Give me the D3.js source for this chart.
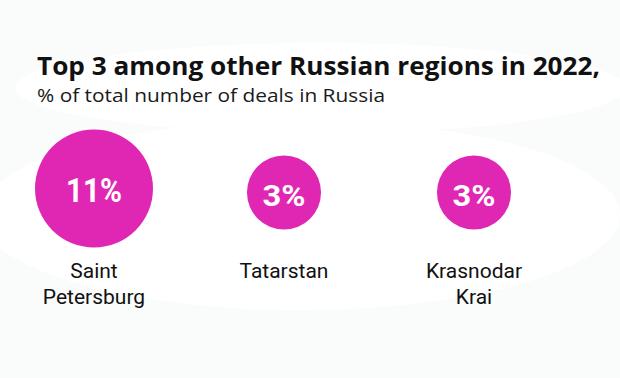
<!DOCTYPE html>
<html><head><meta charset="utf-8">
<script src="https://cdn.jsdelivr.net/npm/d3@7"></script>
<style>html,body{margin:0;padding:0;background:#fbfcfc;}svg{display:block;}</style>
</head><body>
<script>
const regions = ["Saint Petersburg", "Tatarstan", "Krasnodar Krai"];
const labelLines = [["Saint", "Petersburg"], ["Tatarstan"], ["Krasnodar", "Krai"]];
const shares = [11, 3, 3];
const valueLabels = ["11%", "3%", "3%"];
const title = "Top 3 among other Russian regions in 2022,";
const subtitle = "% of total number of deals in Russia";

const W = 620, H = 378;
const svg = d3.select("body").append("svg").attr("width", W).attr("height", H);

// soft background blobs
svg.append("rect").attr("width", W).attr("height", H).attr("fill", "#fafcfc");
svg.append("ellipse").attr("cx", 320).attr("cy", 88).attr("rx", 305).attr("ry", 45).attr("fill", "#ffffff");
svg.append("ellipse").attr("cx", 300).attr("cy", 215).attr("rx", 320).attr("ry", 95).attr("fill", "#ffffff");

const x = d3.scalePoint().domain(regions).range([94, 474]);
const r = d3.scaleSqrt().domain([0, 11]).range([13, 59]);
const font = "'Open Sans', 'Noto Sans', sans-serif";
const labelFont = "Roboto, 'Noto Sans', sans-serif";

svg.append("text").attr("x", 37).attr("y", 75)
  .attr("font-family", font).attr("font-weight", 700).attr("font-size", 25)
  .attr("fill", "#111").attr("textLength", 563).attr("lengthAdjust", "spacingAndGlyphs")
  .text(title);
svg.append("text").attr("x", 37).attr("y", 102)
  .attr("font-family", font).attr("font-size", 19)
  .attr("fill", "#1a1a1a").attr("textLength", 348).attr("lengthAdjust", "spacingAndGlyphs")
  .text(subtitle);

const cy = i => i === 0 ? 188.5 : 192.5;
const g = svg.selectAll("g.item").data(regions).join("g").attr("class", "item");
g.append("circle")
  .attr("cx", d => x(d)).attr("cy", (d, i) => cy(i))
  .attr("r", (d, i) => r(shares[i])).attr("fill", "#e027b3");
g.append("text")
  .attr("x", (d, i) => x(d) - (i === 0 ? 28 : 21.5)).attr("y", (d, i) => cy(i) + 13.5)
  .attr("font-family", labelFont)
  .attr("font-weight", 700).attr("font-size", (d, i) => i === 0 ? 33 : 30)
  .attr("textLength", (d, i) => i === 0 ? 56 : 43).attr("lengthAdjust", "spacingAndGlyphs")
  .attr("fill", "#fff")
  .text((d, i) => valueLabels[i]);
g.each(function(d, i) {
  const t = d3.select(this).append("text")
    .attr("text-anchor", "middle").attr("font-family", labelFont)
    .attr("font-size", 21).attr("fill", "#111");
  labelLines[i].forEach((line, j) => {
    t.append("tspan").attr("x", x(d)).attr("y", 278 + j * 25.5).text(line);
  });
});
</script>
</body></html>
